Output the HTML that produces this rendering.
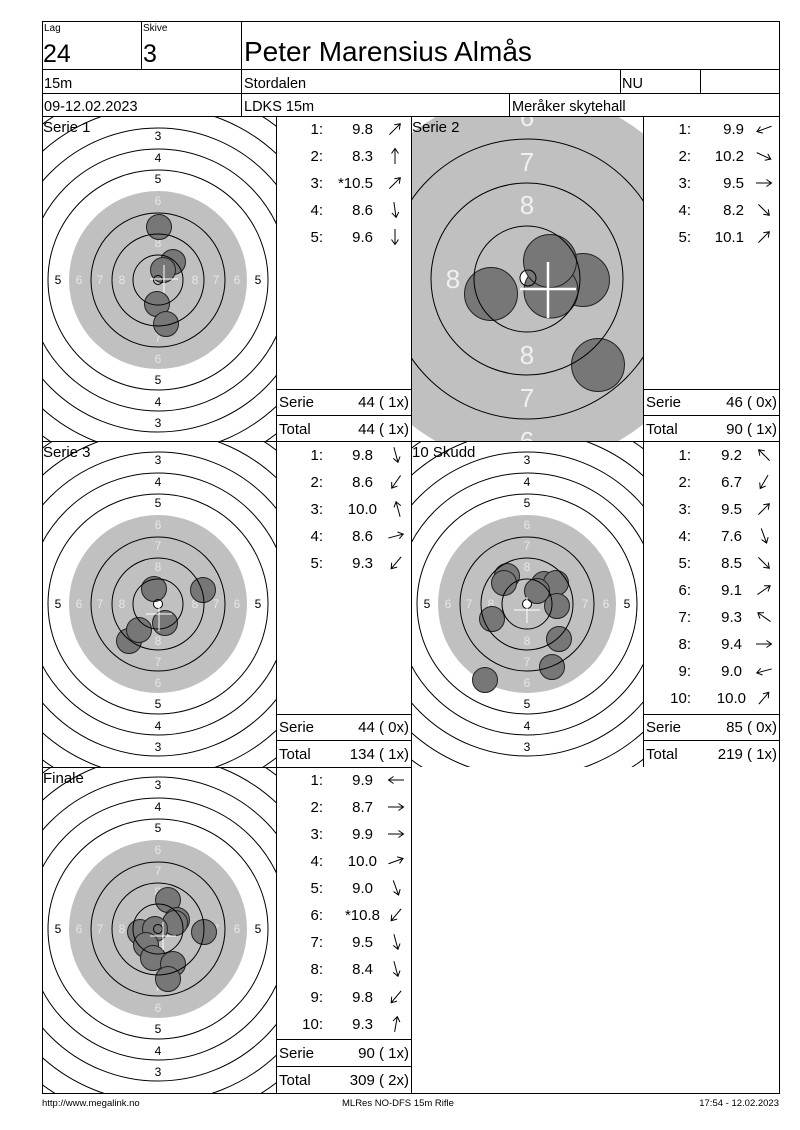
<!DOCTYPE html>
<html><head><meta charset="utf-8"><style>
html,body{margin:0;padding:0;background:#fff;}
svg{display:block;font-family:"Liberation Sans",Arial,sans-serif;}
.sl{font-size:12px;text-anchor:middle;fill:#000;}
.wl{font-size:12px;text-anchor:middle;fill:#e6e6e6;}
.r{fill:none;stroke:#000;stroke-width:1;}
.sh{fill:#777;stroke:#222;stroke-width:1;}
.t{font-size:15px;fill:#000;}
.e{text-anchor:end;}
.g{stroke:#000;stroke-width:1;}
</style></head><body>
<svg width="800" height="1130" viewBox="0 0 800 1130" xmlns="http://www.w3.org/2000/svg">
<defs>
<g id="ar"><path d="M-8,0H7M2.5,-3.5L7.5,0L2.5,3.5" fill="none" stroke="#000" stroke-width="1"/></g>
<clipPath id="c1"><rect x="42" y="116" width="234" height="325"/></clipPath>
<clipPath id="c2"><rect x="411" y="116" width="232" height="325"/></clipPath>
<clipPath id="c3"><rect x="42" y="441" width="234" height="326"/></clipPath>
<clipPath id="c4"><rect x="411" y="441" width="232" height="326"/></clipPath>
<clipPath id="c5"><rect x="42" y="767" width="234" height="326"/></clipPath>
</defs>

<!-- T1 -->
<g clip-path="url(#c1)">
<circle cx="158" cy="280" r="89" fill="#c0c0c0"/>
<text class="sl" x="158" y="140">3</text><text class="sl" x="158" y="162">4</text><text class="sl" x="158" y="183">5</text>
<text class="wl" x="158" y="205">6</text><text class="wl" x="158" y="226">7</text><text class="wl" x="158" y="247">8</text>
<text class="wl" x="158" y="321">8</text><text class="wl" x="158" y="342">7</text><text class="wl" x="158" y="363">6</text>
<text class="sl" x="158" y="384">5</text><text class="sl" x="158" y="406">4</text><text class="sl" x="158" y="427">3</text>
<text class="sl" x="58" y="284">5</text><text class="wl" x="79" y="284">6</text><text class="wl" x="100" y="284">7</text><text class="wl" x="122" y="284">8</text>
<text class="wl" x="195" y="284">8</text><text class="wl" x="216" y="284">7</text><text class="wl" x="237" y="284">6</text><text class="sl" x="258" y="284">5</text>
<circle cx="159" cy="227" r="12.5" class="sh"/><circle cx="173" cy="262" r="12.5" class="sh"/><circle cx="163" cy="270" r="12.5" class="sh"/><circle cx="157" cy="304" r="12.5" class="sh"/><circle cx="166" cy="324" r="12.5" class="sh"/>
<g class="r"><circle cx="158" cy="280" r="4.5"/><circle cx="158" cy="280" r="25"/><circle cx="158" cy="280" r="46"/><circle cx="158" cy="280" r="67"/><circle cx="158" cy="280" r="110"/><circle cx="158" cy="280" r="131"/><circle cx="158" cy="280" r="152"/><circle cx="158" cy="280" r="173"/><circle cx="158" cy="280" r="194"/></g>
<path d="M150,279H178M164,265V293" stroke="#fff" stroke-width="1"/>
</g>

<!-- T2 zoomed -->
<g clip-path="url(#c2)">
<circle cx="527" cy="279" r="186" fill="#c0c0c0"/>
<g style="font-size:26px;text-anchor:middle;fill:#f0f0f0">
<text x="527" y="126">6</text><text x="527" y="171">7</text><text x="527" y="214">8</text>
<text x="527" y="364">8</text><text x="527" y="407">7</text><text x="527" y="450">6</text>
<text x="453" y="288">8</text></g>
<circle cx="528" cy="278" r="8" fill="#fff"/>
<circle cx="491" cy="294" r="26.5" class="sh"/><circle cx="583" cy="280" r="26.5" class="sh"/><circle cx="551" cy="291" r="27" class="sh"/><circle cx="550" cy="261" r="26.5" class="sh"/><circle cx="598" cy="365" r="26.5" class="sh"/>
<g class="r"><circle cx="528" cy="278" r="8"/><circle cx="527" cy="279" r="53"/><circle cx="527" cy="279" r="96"/><circle cx="527" cy="279" r="140"/></g>
<path d="M520,289H576M548,262V318" stroke="#fff" stroke-width="2.5"/>
</g>

<!-- T3 -->
<g clip-path="url(#c3)">
<circle cx="158" cy="604" r="89" fill="#c0c0c0"/>
<text class="sl" x="158" y="464">3</text><text class="sl" x="158" y="486">4</text><text class="sl" x="158" y="507">5</text>
<text class="wl" x="158" y="529">6</text><text class="wl" x="158" y="550">7</text><text class="wl" x="158" y="571">8</text>
<text class="wl" x="158" y="645">8</text><text class="wl" x="158" y="666">7</text><text class="wl" x="158" y="687">6</text>
<text class="sl" x="158" y="708">5</text><text class="sl" x="158" y="730">4</text><text class="sl" x="158" y="751">3</text>
<text class="sl" x="58" y="608">5</text><text class="wl" x="79" y="608">6</text><text class="wl" x="100" y="608">7</text><text class="wl" x="122" y="608">8</text>
<text class="wl" x="195" y="608">8</text><text class="wl" x="216" y="608">7</text><text class="wl" x="237" y="608">6</text><text class="sl" x="258" y="608">5</text>
<circle cx="158" cy="604" r="4.5" fill="#fff"/>
<circle cx="154" cy="589" r="12.5" class="sh"/><circle cx="203" cy="590" r="12.5" class="sh"/><circle cx="165" cy="623" r="12.5" class="sh"/><circle cx="129" cy="641" r="12.5" class="sh"/><circle cx="139" cy="630" r="12.5" class="sh"/>
<g class="r"><circle cx="158" cy="604" r="4.5"/><circle cx="158" cy="604" r="25"/><circle cx="158" cy="604" r="46"/><circle cx="158" cy="604" r="67"/><circle cx="158" cy="604" r="110"/><circle cx="158" cy="604" r="131"/><circle cx="158" cy="604" r="152"/><circle cx="158" cy="604" r="173"/><circle cx="158" cy="604" r="194"/></g>
<path d="M146,614H172M159,605V631" stroke="#fff" stroke-width="1"/>
</g>

<!-- T4 -->
<g clip-path="url(#c4)">
<circle cx="527" cy="604" r="89" fill="#c0c0c0"/>
<text class="sl" x="527" y="464">3</text><text class="sl" x="527" y="486">4</text><text class="sl" x="527" y="507">5</text>
<text class="wl" x="527" y="529">6</text><text class="wl" x="527" y="550">7</text><text class="wl" x="527" y="571">8</text>
<text class="wl" x="527" y="645">8</text><text class="wl" x="527" y="666">7</text><text class="wl" x="527" y="687">6</text>
<text class="sl" x="527" y="708">5</text><text class="sl" x="527" y="730">4</text><text class="sl" x="527" y="751">3</text>
<text class="sl" x="427" y="608">5</text><text class="wl" x="448" y="608">6</text><text class="wl" x="469" y="608">7</text><text class="wl" x="491" y="608">8</text>
<text class="wl" x="564" y="608">8</text><text class="wl" x="585" y="608">7</text><text class="wl" x="606" y="608">6</text><text class="sl" x="627" y="608">5</text>
<circle cx="527" cy="604" r="4.5" fill="#fff"/>
<circle cx="507" cy="576" r="12.5" class="sh"/><circle cx="504" cy="583" r="12.5" class="sh"/><circle cx="544" cy="584" r="12.5" class="sh"/><circle cx="556" cy="583" r="12.5" class="sh"/><circle cx="537" cy="591" r="12.5" class="sh"/><circle cx="557" cy="606" r="12.5" class="sh"/><circle cx="492" cy="619" r="12.5" class="sh"/><circle cx="559" cy="639" r="12.5" class="sh"/><circle cx="552" cy="667" r="12.5" class="sh"/><circle cx="485" cy="680" r="12.5" class="sh"/>
<g class="r"><circle cx="527" cy="604" r="4.5"/><circle cx="527" cy="604" r="25"/><circle cx="527" cy="604" r="46"/><circle cx="527" cy="604" r="67"/><circle cx="527" cy="604" r="110"/><circle cx="527" cy="604" r="131"/><circle cx="527" cy="604" r="152"/><circle cx="527" cy="604" r="173"/><circle cx="527" cy="604" r="194"/></g>
<path d="M514,610H540M527,597V623" stroke="#fff" stroke-width="1"/>
</g>

<!-- T5 -->
<g clip-path="url(#c5)">
<circle cx="158" cy="929" r="89" fill="#c0c0c0"/>
<text class="sl" x="158" y="789">3</text><text class="sl" x="158" y="811">4</text><text class="sl" x="158" y="832">5</text>
<text class="wl" x="158" y="854">6</text><text class="wl" x="158" y="875">7</text><text class="wl" x="158" y="896">8</text>
<text class="wl" x="158" y="970">8</text><text class="wl" x="158" y="991">7</text><text class="wl" x="158" y="1012">6</text>
<text class="sl" x="158" y="1033">5</text><text class="sl" x="158" y="1055">4</text><text class="sl" x="158" y="1076">3</text>
<text class="sl" x="58" y="933">5</text><text class="wl" x="79" y="933">6</text><text class="wl" x="100" y="933">7</text><text class="wl" x="122" y="933">8</text>
<text class="wl" x="195" y="933">8</text><text class="wl" x="216" y="933">7</text><text class="wl" x="237" y="933">6</text><text class="sl" x="258" y="933">5</text>
<circle cx="168" cy="900" r="12.5" class="sh"/><circle cx="177" cy="920" r="12.5" class="sh"/><circle cx="175" cy="923" r="12.5" class="sh"/><circle cx="204" cy="932" r="12.5" class="sh"/><circle cx="140" cy="932" r="12.5" class="sh"/><circle cx="155" cy="929" r="12.5" class="sh"/><circle cx="146" cy="945" r="12.5" class="sh"/><circle cx="153" cy="958" r="12.5" class="sh"/><circle cx="173" cy="964" r="12.5" class="sh"/><circle cx="168" cy="979" r="12.5" class="sh"/>
<g class="r"><circle cx="158" cy="929" r="4.5"/><circle cx="158" cy="929" r="25"/><circle cx="158" cy="929" r="46"/><circle cx="158" cy="929" r="67"/><circle cx="158" cy="929" r="110"/><circle cx="158" cy="929" r="131"/><circle cx="158" cy="929" r="152"/><circle cx="158" cy="929" r="173"/><circle cx="158" cy="929" r="194"/></g>
<path d="M150,936H176M163,922V950" stroke="#fff" stroke-width="1"/>
</g>

<!-- grid -->
<g class="g" fill="none">
<rect x="42.5" y="21.5" width="737" height="1072"/>
<path d="M42,69.5H779M42,93.5H779M42,116.5H779M42,441.5H779M42,767.5H411"/>
<path d="M141.5,21V69M241.5,21V116M620.5,69V93M700.5,69V93M509.5,93V116"/>
<path d="M276.5,116V1093M411.5,116V1093M643.5,116V767"/>
<path d="M276,389.5H411M276,415.5H411M643,389.5H779M643,415.5H779"/>
<path d="M276,714.5H411M276,740.5H411M643,714.5H779M643,740.5H779"/>
<path d="M276,1039.5H411M276,1066.5H411"/>
</g>

<!-- header -->
<text x="44" y="31" style="font-size:10px">Lag</text>
<text x="143" y="31" style="font-size:10px">Skive</text>
<text x="43" y="62" style="font-size:25px">24</text>
<text x="143" y="62" style="font-size:25px">3</text>
<text x="244" y="61" style="font-size:28px">Peter Marensius Almås</text>
<g style="font-size:14.5px">
<text x="44" y="88">15m</text><text x="244" y="88">Stordalen</text><text x="622" y="88">NU</text>
<text x="44" y="111">09-12.02.2023</text><text x="244" y="111">LDKS 15m</text><text x="512" y="111">Meråker skytehall</text>
</g>

<!-- titles -->
<g style="font-size:15px">
<text x="43" y="132">Serie 1</text><text x="412" y="132">Serie 2</text>
<text x="43" y="457">Serie 3</text><text x="412" y="457">10 Skudd</text>
<text x="43" y="783">Finale</text>
</g>

<!-- table 1 -->
<g class="t">
<text class="e" x="323" y="134">1:</text><text class="e" x="373" y="134">9.8</text>
<text class="e" x="323" y="161">2:</text><text class="e" x="373" y="161">8.3</text>
<text class="e" x="323" y="188">3:</text><text class="e" x="373" y="188">*10.5</text>
<text class="e" x="323" y="215">4:</text><text class="e" x="373" y="215">8.6</text>
<text class="e" x="323" y="242">5:</text><text class="e" x="373" y="242">9.6</text>
<text x="279" y="407">Serie</text><text class="e" x="409" y="407">44 ( 1x)</text>
<text x="279" y="434">Total</text><text class="e" x="409" y="434">44 ( 1x)</text>
</g>
<use href="#ar" transform="translate(395,129) rotate(-45)"/>
<use href="#ar" transform="translate(395,156) rotate(-90)"/>
<use href="#ar" transform="translate(395,183) rotate(-45)"/>
<use href="#ar" transform="translate(395,210) rotate(82)"/>
<use href="#ar" transform="translate(395,237) rotate(90)"/>

<!-- table 2 -->
<g class="t">
<text class="e" x="691" y="134">1:</text><text class="e" x="744" y="134">9.9</text>
<text class="e" x="691" y="161">2:</text><text class="e" x="744" y="161">10.2</text>
<text class="e" x="691" y="188">3:</text><text class="e" x="744" y="188">9.5</text>
<text class="e" x="691" y="215">4:</text><text class="e" x="744" y="215">8.2</text>
<text class="e" x="691" y="242">5:</text><text class="e" x="744" y="242">10.1</text>
<text x="646" y="407">Serie</text><text class="e" x="777" y="407">46 ( 0x)</text>
<text x="646" y="434">Total</text><text class="e" x="777" y="434">90 ( 1x)</text>
</g>
<use href="#ar" transform="translate(764,129) rotate(160)"/>
<use href="#ar" transform="translate(764,156) rotate(25)"/>
<use href="#ar" transform="translate(764,183) rotate(0)"/>
<use href="#ar" transform="translate(764,210) rotate(45)"/>
<use href="#ar" transform="translate(764,237) rotate(-45)"/>

<!-- table 3 -->
<g class="t">
<text class="e" x="323" y="460">1:</text><text class="e" x="373" y="460">9.8</text>
<text class="e" x="323" y="487">2:</text><text class="e" x="373" y="487">8.6</text>
<text class="e" x="323" y="514">3:</text><text class="e" x="377" y="514">10.0</text>
<text class="e" x="323" y="541">4:</text><text class="e" x="373" y="541">8.6</text>
<text class="e" x="323" y="568">5:</text><text class="e" x="373" y="568">9.3</text>
<text x="279" y="732">Serie</text><text class="e" x="409" y="732">44 ( 0x)</text>
<text x="279" y="759">Total</text><text class="e" x="409" y="759">134 ( 1x)</text>
</g>
<use href="#ar" transform="translate(396,455) rotate(75)"/>
<use href="#ar" transform="translate(396,482) rotate(125)"/>
<use href="#ar" transform="translate(398,509) rotate(-105)"/>
<use href="#ar" transform="translate(396,536) rotate(-15)"/>
<use href="#ar" transform="translate(396,563) rotate(130)"/>

<!-- table 4 -->
<g class="t">
<text class="e" x="691" y="460">1:</text><text class="e" x="742" y="460">9.2</text>
<text class="e" x="691" y="487">2:</text><text class="e" x="742" y="487">6.7</text>
<text class="e" x="691" y="514">3:</text><text class="e" x="742" y="514">9.5</text>
<text class="e" x="691" y="541">4:</text><text class="e" x="742" y="541">7.6</text>
<text class="e" x="691" y="568">5:</text><text class="e" x="742" y="568">8.5</text>
<text class="e" x="691" y="595">6:</text><text class="e" x="742" y="595">9.1</text>
<text class="e" x="691" y="622">7:</text><text class="e" x="742" y="622">9.3</text>
<text class="e" x="691" y="649">8:</text><text class="e" x="742" y="649">9.4</text>
<text class="e" x="691" y="676">9:</text><text class="e" x="742" y="676">9.0</text>
<text class="e" x="691" y="703">10:</text><text class="e" x="746" y="703">10.0</text>
<text x="646" y="732">Serie</text><text class="e" x="777" y="732">85 ( 0x)</text>
<text x="646" y="759">Total</text><text class="e" x="777" y="759">219 ( 1x)</text>
</g>
<use href="#ar" transform="translate(764,455) rotate(-135)"/>
<use href="#ar" transform="translate(764,482) rotate(120)"/>
<use href="#ar" transform="translate(764,509) rotate(-45)"/>
<use href="#ar" transform="translate(764,536) rotate(70)"/>
<use href="#ar" transform="translate(764,563) rotate(45)"/>
<use href="#ar" transform="translate(764,590) rotate(-35)"/>
<use href="#ar" transform="translate(764,617) rotate(-145)"/>
<use href="#ar" transform="translate(764,644) rotate(0)"/>
<use href="#ar" transform="translate(764,671) rotate(165)"/>
<use href="#ar" transform="translate(764,698) rotate(-50)"/>

<!-- table 5 -->
<g class="t">
<text class="e" x="323" y="785">1:</text><text class="e" x="373" y="785">9.9</text>
<text class="e" x="323" y="812">2:</text><text class="e" x="373" y="812">8.7</text>
<text class="e" x="323" y="839">3:</text><text class="e" x="373" y="839">9.9</text>
<text class="e" x="323" y="866">4:</text><text class="e" x="377" y="866">10.0</text>
<text class="e" x="323" y="893">5:</text><text class="e" x="373" y="893">9.0</text>
<text class="e" x="323" y="920">6:</text><text class="e" x="380" y="920">*10.8</text>
<text class="e" x="323" y="947">7:</text><text class="e" x="373" y="947">9.5</text>
<text class="e" x="323" y="974">8:</text><text class="e" x="373" y="974">8.4</text>
<text class="e" x="323" y="1002">9:</text><text class="e" x="373" y="1002">9.8</text>
<text class="e" x="323" y="1029">10:</text><text class="e" x="373" y="1029">9.3</text>
<text x="279" y="1058">Serie</text><text class="e" x="409" y="1058">90 ( 1x)</text>
<text x="279" y="1085">Total</text><text class="e" x="409" y="1085">309 ( 2x)</text>
</g>
<use href="#ar" transform="translate(396,780) rotate(180)"/>
<use href="#ar" transform="translate(396,807) rotate(0)"/>
<use href="#ar" transform="translate(396,834) rotate(0)"/>
<use href="#ar" transform="translate(396,861) rotate(-20)"/>
<use href="#ar" transform="translate(396,888) rotate(70)"/>
<use href="#ar" transform="translate(396,915) rotate(130)"/>
<use href="#ar" transform="translate(396,942) rotate(75)"/>
<use href="#ar" transform="translate(396,969) rotate(75)"/>
<use href="#ar" transform="translate(396,997) rotate(130)"/>
<use href="#ar" transform="translate(396,1024) rotate(-80)"/>

<!-- footer -->
<g style="font-size:9.5px">
<text x="42" y="1106">http://www.megalink.no</text>
<text x="342" y="1106">MLRes NO-DFS 15m Rifle</text>
<text x="779" y="1106" text-anchor="end">17:54 - 12.02.2023</text>
</g>
</svg>
</body></html>
